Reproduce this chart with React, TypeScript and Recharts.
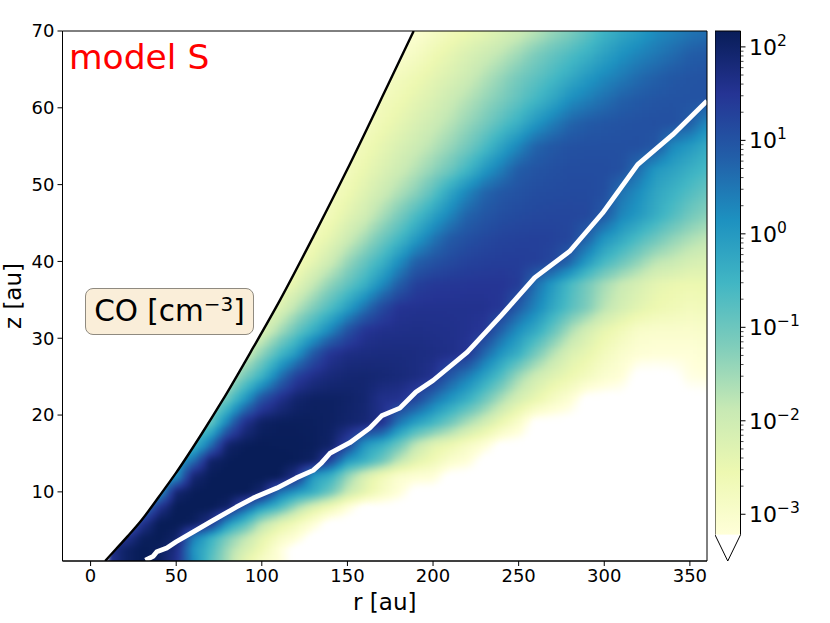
import React from 'react';
import {
  ComposedChart,
  Scatter,
  Area,
  Line,
  XAxis,
  YAxis,
  ReferenceArea,
} from 'recharts';

const FONT = '"DejaVu Sans", sans-serif';

// tick labels
const xTicks = [0, 50, 100, 150, 200, 250, 300, 350];
const yTicks = [10, 20, 30, 40, 50, 60, 70];
const cbDecades = [-3, -2, -1, 0, 1, 2];
const cbMinor = [0.301, 0.477, 0.602, 0.699, 0.778, 0.845, 0.903, 0.954];

// YlGnBu, low to high
const cmap = ['#ffffd9', '#edf8b1', '#c7e9b4', '#7fcdbb', '#41b6c4', '#1d91c0', '#225ea8', '#253494', '#081d58'];
const LOG_MIN = -3.22;
const LOG_MAX = 2.17;

// black curve (disc surface)
const surfaceR = [8.5, 15, 22, 29, 40, 50, 65, 77, 95, 110.7, 130, 149.5, 173.5, 188.7];
const surfaceZ = [1, 2.6, 4.3, 6.1, 9.4, 12.5, 17.6, 21.9, 28.8, 35, 43.2, 51.8, 62.9, 70];

// white line
const lineR = [32, 36.5, 38.7, 44.5, 50, 60, 70, 75.6, 85, 95, 108.8, 120, 130, 135, 139.7, 151.4, 163, 170, 180.6, 190, 200, 220, 240, 259.4, 279.7, 299, 319.5, 340, 360];
const lineZ = [1.1, 1.6, 2.2, 2.7, 3.5, 4.8, 6.1, 6.8, 8, 9.2, 10.5, 11.8, 12.8, 13.8, 15, 16.4, 18.3, 19.9, 20.9, 23, 24.5, 28.2, 33, 37.9, 41.3, 46.3, 52.6, 56.5, 60.9];

// log10 CO density, row by row from the top, one value every 10 au starting at rowStart
const rowZ = [70, 67, 64, 61, 58, 55, 52, 49, 46, 43, 40, 37, 34, 31, 28, 25, 22, 19, 16, 14, 12, 10, 8, 6, 4, 2.5, 1];
const rowStart = [170, 160, 160, 150, 140, 130, 130, 120, 110, 110, 100, 90, 80, 80, 70, 60, 50, 40, 30, 20, 20, 10, 10, 10, 10, 10, 10];
const logCO = [
  [-3.1, -3.1, -3.1, -2.9, -2.7, -2.55, -2.4, -2.2, -2, -1.75, -1.45, -1.2, -0.85, -0.5, -0.25, -0.05, 0.2, 0.35, 0.5, 0.6],
  [-3.05, -3.05, -3.05, -2.85, -2.62, -2.42, -2.2, -2, -1.78, -1.5, -1.17, -0.92, -0.68, -0.43, -0.15, 0.12, 0.31, 0.48, 0.65, 0.83, 0.9],
  [-3, -2.95, -2.75, -2.6, -2.4, -2.2, -1.98, -1.7, -1.4, -1.1, -0.85, -0.6, -0.3, 0, 0.25, 0.45, 0.65, 0.8, 0.92, 0.98, 1],
  [-3, -2.95, -2.75, -2.6, -2.4, -2.2, -1.95, -1.7, -1.42, -1.15, -0.85, -0.53, -0.2, 0.18, 0.4, 0.6, 0.8, 0.9, 0.97, 1, 1, 1],
  [-3, -3, -2.85, -2.62, -2.42, -2.2, -1.98, -1.72, -1.42, -1.12, -0.75, -0.4, 0.05, 0.4, 0.72, 0.88, 0.95, 1, 1.03, 1.05, 1.05, 0.85, 0.25],
  [-3, -3, -2.85, -2.65, -2.43, -2.2, -1.98, -1.72, -1.42, -1.08, -0.65, -0.15, 0.3, 0.75, 0.92, 1.02, 1.05, 1.05, 1.05, 1.05, 0.95, 0.25, 0, -0.3],
  [-3, -2.95, -2.75, -2.5, -2.25, -2, -1.7, -1.37, -1, -0.53, 0, 0.43, 0.85, 0.98, 1.05, 1.1, 1.1, 1.1, 1.05, 0.6, 0.05, -0.15, -0.38, -0.6],
  [-3, -2.95, -2.8, -2.6, -2.3, -2, -1.65, -1.3, -0.8, -0.2, 0.3, 0.72, 0.93, 1.02, 1.1, 1.12, 1.14, 1.14, 1.08, 0.55, 0.2, -0.2, -0.45, -0.7, -0.95],
  [-3, -3, -2.9, -2.68, -2.35, -2.05, -1.6, -1.15, -0.65, -0.15, 0.32, 0.75, 0.95, 1.08, 1.14, 1.18, 1.2, 1.2, 1.18, 0.9, 0.3, 0, -0.35, -0.7, -1.05, -1.3],
  [-3, -2.95, -2.7, -2.4, -2, -1.55, -1.05, -0.58, -0.03, 0.48, 0.88, 1.05, 1.17, 1.25, 1.28, 1.3, 1.28, 1.2, 0.75, 0.1, -0.25, -0.65, -1, -1.35, -1.6, -1.8],
  [-3, -2.95, -2.75, -2.42, -2, -1.45, -0.95, -0.47, 0.15, 0.76, 1, 1.15, 1.27, 1.32, 1.35, 1.35, 1.32, 1.2, 0.75, 0, -0.55, -0.95, -1.35, -1.75, -1.9, -2.1, -2.2],
  [-2.7, -2.7, -2.7, -2.4, -1.87, -1.35, -0.9, -0.42, 0.2, 0.82, 1.3, 1.42, 1.45, 1.47, 1.48, 1.48, 1.38, 0.6, 0, -0.6, -1.1, -1.55, -1.9, -2.15, -2.4, -2.5, -2.55, -2.5],
  [-2.5, -2.5, -2.5, -2.3, -1.75, -1.2, -0.68, -0.1, 0.55, 1.15, 1.52, 1.55, 1.56, 1.56, 1.56, 1.55, 1.45, 0.85, 0.3, -0.25, -0.75, -1.2, -1.75, -2.1, -2.35, -2.55, -2.65, -2.75, -2.7],
  [-2.4, -2.4, -2.25, -1.6, -0.95, -0.35, 0.3, 1, 1.5, 1.6, 1.62, 1.64, 1.62, 1.6, 1.55, 1.45, 0.75, 0.15, -0.3, -0.9, -1.6, -2.1, -2.45, -2.7, -2.95, -3, -3, -3, -2.95],
  [-2.05, -2.05, -2.05, -1.35, -0.6, 0.02, 0.9, 1.5, 1.68, 1.72, 1.74, 1.74, 1.72, 1.68, 1.62, 1.5, 0.7, 0.05, -0.4, -1.1, -1.7, -2.2, -2.45, -2.75, -3, -3.15, -3.2, -3.2, -3.2, -3.1],
  [-1.9, -1.9, -1.9, -1.1, -0.43, 0.5, 1.3, 1.65, 1.8, 1.88, 1.9, 1.86, 1.8, 1.72, 1.55, 0.9, 0.4, -0.15, -0.75, -1.5, -2, -2.3, -2.55, -2.8, -3.05, -3.2, -3.6, -3.6, -3.55, -3.3, -3.25],
  [-1.5, -1.5, -1.5, -0.95, 0.05, 1.05, 1.6, 1.95, 2.05, 2.05, 2, 1.9, 1.6, 1.55, 1.2, 0.55, 0.05, -0.4, -1, -1.65, -2.15, -2.5, -2.85, -3.15],
  [-1, -1, -1, -0.95, 0.4, 1.6, 2.05, 2.12, 2.12, 2.1, 2.05, 1.95, 1.85, 1.6, 0.5, -0.1, -0.53, -1.05, -1.6, -2.05, -2.55, -3],
  [-0.6, -0.6, -0.6, -0.5, 0.6, 2, 2.15, 2.17, 2.15, 2.15, 2.12, 2, 1.2, 0, -0.45, -1.05, -1.85, -2.35, -2.6, -2.9, -3.2],
  [-0.2, -0.2, -0.2, -0.2, 0.6, 2, 2.15, 2.2, 2.2, 2.2, 2.15, 2.05, 1.2, 0, -0.42, -1, -1.8, -2.35, -2.65, -3, -3.2],
  [-0.1, -0.1, -0.1, 0.1, 1.9, 2.15, 2.2, 2.2, 2.2, 2.15, 1.6, -0.05, -0.45, -1.4, -2.2, -2.7, -3.05, -3.15, -3.2],
  [-0.3, -0.3, -0.3, -0.1, 1.9, 2.15, 2.2, 2.2, 2.2, 1.9, 0.6, 0.05, -0.35, -1, -1.87, -2.4, -2.85, -3.2],
  [0, 0, 0.1, 1.5, 2.2, 2.2, 2.2, 2, 0.9, 0, -0.6, -1.5, -2.2, -2.65, -3.2],
  [0.3, 0.3, 1.5, 2.2, 2.2, 2.1, 1.6, 0.1, -0.7, -1.7, -2.3, -2.7, -3.15],
  [1.5, 1.5, 2.1, 2.2, 2, 0.4, -0.4, -1.2, -1.8, -2.4, -2.9, -3.2],
  [1.5, 2, 2.2, 2.1, 1.7, 0.1, -0.6, -1.5, -2.1, -2.6, -3.2],
  [1.5, 2, 2.2, 2.1, 1.6, 0.2, -0.75, -1.6, -2.4, -2.9, -3.2],
];

// plot box in page pixels
const LEFT = 62.5;
const RIGHT = 707;
const TOP = 31;
const BOTTOM = 561;
const X_MIN = -16.4;
const X_MAX = 360;
const Y_MIN = 1;
const Y_MAX = 70;
const PX_R = (RIGHT - LEFT) / (X_MAX - X_MIN);
const PX_Z = (BOTTOM - TOP) / (Y_MAX - Y_MIN);
const COLS = 10; // au between columns
const LOG_BLANK = -3.6;

const hexToRgb = (h: string) => [1, 3, 5].map((i) => parseInt(h.slice(i, i + 2), 16));

// below the colorbar it fades out to white, like the "under" colour
const colorOf = (v: number) => {
  if (v <= -3.5) return null;
  if (v < LOG_MIN) {
    const f = (v - -3.5) / (LOG_MIN - -3.5);
    const pale = hexToRgb(cmap[0]);
    const c = pale.map((x) => Math.round(255 + (x - 255) * f));
    return `rgb(${c[0]},${c[1]},${c[2]})`;
  }
  const t = Math.min(1, (v - LOG_MIN) / (LOG_MAX - LOG_MIN)) * (cmap.length - 1);
  const i = Math.min(Math.floor(t), cmap.length - 2);
  const a = hexToRgb(cmap[i]);
  const b = hexToRgb(cmap[i + 1]);
  const c = a.map((x, k) => Math.round(x + (b[k] - x) * (t - i)));
  return `rgb(${c[0]},${c[1]},${c[2]})`;
};

// value at a grid node; left of a row's start it keeps the first value, right of its end it is blank
const nodeValue = (j: number, r: number) => {
  const row = logCO[j];
  const k = Math.round((r - rowStart[j]) / COLS);
  if (k < 0) return row[0];
  if (k < row.length) return row[k];
  const reachesEdge = rowStart[j] + (row.length - 1) * COLS === 360;
  return reachesEdge ? row[row.length - 1] : LOG_BLANK;
};

// one quad per pair of neighbouring rows and columns
const heatCells = rowZ.slice(0, -1).flatMap((z, j) =>
  Array.from({ length: 37 }, (_, i) => i * COLS)
    .filter((r) => r + COLS > rowStart[j] || r + COLS > rowStart[j + 1])
    .map((r) => ({ r, z, row: j }))
);

const surfaceData = surfaceR.map((r, i) => ({ r, z: surfaceZ[i] }));
const lineData = lineR.map((r, i) => ({ r, z: lineZ[i] }));
const maskData = [
  { r: X_MIN, band: [Y_MIN, Y_MAX] },
  { r: surfaceR[0] - 0.1, band: [Y_MIN, Y_MAX] },
  ...surfaceData.map((p) => ({ r: p.r, band: [p.z, Y_MAX] })),
];

// gouraud-like quad, shaded from the four node values
const HeatCell = (props: any) => {
  const { cx, cy, payload } = props;
  const j = payload.row;
  const r = payload.r;
  const a = nodeValue(j, r);
  const b = nodeValue(j, r + COLS);
  const c = nodeValue(j + 1, r);
  const d = nodeValue(j + 1, r + COLS);
  const w = COLS * PX_R;
  const h = (rowZ[j] - rowZ[j + 1]) * PX_Z;
  const nx = 5;
  const ny = Math.max(2, Math.ceil(h / 3.5));
  const rects = [];
  for (let iy = 0; iy < ny; iy++) {
    for (let ix = 0; ix < nx; ix++) {
      const fx = (ix + 0.5) / nx;
      const fy = (iy + 0.5) / ny;
      const fill = colorOf(a * (1 - fx) * (1 - fy) + b * fx * (1 - fy) + c * (1 - fx) * fy + d * fx * fy);
      if (!fill) continue;
      const top = j === 0 && iy === 0 ? 12 : 0;
      const bottom = j === rowZ.length - 2 && iy === ny - 1 ? 12 : 0;
      rects.push(
        <rect
          key={`${ix}-${iy}`}
          x={cx + (ix * w) / nx}
          y={cy + (iy * h) / ny - top}
          width={w / nx + 0.5}
          height={h / ny + 0.5 + top + bottom}
          fill={fill}
        />
      );
    }
  }
  return <g shapeRendering="crispEdges">{rects}</g>;
};

const ColorbarTick = (props: any) => {
  const { x, y, payload } = props;
  const major = Number.isInteger(payload.value);
  return (
    <g>
      <line x1={x} x2={x + (major ? 5 : 3)} y1={y} y2={y} stroke="#000" strokeWidth={major ? 1 : 0.7} />
      {major && (
        <text x={x + 8.5} y={y + 8} fontSize={22} fontFamily={FONT} fill="#000">
          10
          <tspan dy={-9} fontSize={15.5}>
            {payload.value < 0 ? `\u2212${-payload.value}` : payload.value}
          </tspan>
        </text>
      )}
    </g>
  );
};

const cbTicks = cbDecades.flatMap((d) => [d, ...cbMinor.map((m) => d + m)]).filter((t) => t >= LOG_MIN && t <= LOG_MAX);
const cbData = [{ x: 0 }, { x: 1 }];

// outline left open at the bottom, the triangle carries on from there
const ColorbarBody = (props: any) => {
  const { x, y, width, height } = props;
  return (
    <g>
      <rect x={x} y={y} width={width} height={height} fill="url(#cbGrad)" />
      <path d={`M${x},${y + height}L${x},${y}L${x + width},${y}L${x + width},${y + height}`} fill="none" stroke="#000" strokeWidth={1} />
    </g>
  );
};

const Triangle = (props: any) => {
  const { x, y, width, height } = props;
  return <path d={`M${x},${y}L${x + width / 2},${y + height}L${x + width},${y}`} fill="#fff" stroke="#000" strokeWidth={1} />;
};

const tickStyle = { fontSize: 18, fontFamily: FONT, fill: '#000' };

export default function App() {
  return (
    <div style={{ position: 'absolute', left: 0, top: 0, width: 830, height: 623, fontFamily: FONT, background: '#fff' }}>
      <style>{`.heat-layer { filter: url(#heatBlur); clip-path: url(#plotClip); }`}</style>
      <svg width={0} height={0} style={{ position: 'absolute' }}>
        <defs>
          <filter id="heatBlur" filterUnits="userSpaceOnUse" x={0} y={0} width={830} height={623} colorInterpolationFilters="sRGB">
            <feGaussianBlur stdDeviation="2" />
          </filter>
          <clipPath id="plotClip">
            <rect x={LEFT} y={TOP} width={RIGHT - LEFT} height={BOTTOM - TOP} />
          </clipPath>
          <linearGradient id="cbGrad" x1="0" y1="1" x2="0" y2="0">
            {cmap.map((c, i) => (
              <stop key={c} offset={i / (cmap.length - 1)} stopColor={c} />
            ))}
          </linearGradient>
        </defs>
      </svg>

      <div style={{ position: 'absolute', left: 0, top: 0 }}>
        <ComposedChart width={830} height={623} margin={{ top: TOP, right: 830 - RIGHT, bottom: 0, left: 0 }}>
          <XAxis
            type="number"
            dataKey="r"
            domain={[X_MIN, X_MAX]}
            ticks={xTicks}
            allowDataOverflow
            height={623 - BOTTOM}
            tickSize={5}
            tickMargin={3}
            tick={tickStyle}
            stroke="#000"
            label={{ value: 'r [au]', position: 'insideBottom', offset: 13, style: { fontSize: 23, fontFamily: FONT, fill: '#000' } }}
          />
          <YAxis
            type="number"
            dataKey="z"
            domain={[Y_MIN, Y_MAX]}
            ticks={yTicks}
            allowDataOverflow
            width={LEFT}
            tickSize={5}
            tickMargin={3}
            tick={tickStyle}
            stroke="#000"
            label={{ value: 'z [au]', angle: -90, position: 'insideLeft', offset: 13, style: { fontSize: 23, fontFamily: FONT, fill: '#000', textAnchor: 'middle' } }}
          />
          <Scatter data={heatCells} dataKey="z" shape={HeatCell} className="heat-layer" zIndex={10} isAnimationActive={false} />
          <Area data={maskData} dataKey="band" type="monotone" fill="#fff" fillOpacity={1} stroke="none" dot={false} activeDot={false} zIndex={20} isAnimationActive={false} />
          <Line data={surfaceData} dataKey="z" type="monotone" stroke="#000" strokeWidth={2.4} dot={false} activeDot={false} zIndex={30} isAnimationActive={false} />
          <Line data={lineData} dataKey="z" type="linear" stroke="#fff" strokeWidth={4.8} strokeLinejoin="round" dot={false} activeDot={false} zIndex={40} isAnimationActive={false} />
          <ReferenceArea x1={X_MIN} x2={X_MAX} y1={Y_MIN} y2={Y_MAX} fill="none" stroke="#000" strokeWidth={1} ifOverflow="visible" zIndex={50} />
        </ComposedChart>
      </div>

      <div style={{ position: 'absolute', left: 715, top: 0 }}>
        <ComposedChart width={115} height={623} data={cbData} margin={{ top: TOP, right: 0, bottom: 623 - BOTTOM, left: 0 }}>
          <XAxis type="number" dataKey="x" domain={[0, 1]} hide />
          <YAxis
            type="number"
            orientation="right"
            domain={[-3.5, LOG_MAX]}
            ticks={cbTicks}
            interval={0}
            width={89.5}
            axisLine={false}
            tickLine={false}
            tickSize={0}
            tickMargin={0}
            tick={ColorbarTick}
            allowDataOverflow
          />
          <Line dataKey="x" stroke="none" dot={false} activeDot={false} isAnimationActive={false} />
          <ReferenceArea x1={0} x2={1} y1={LOG_MIN} y2={LOG_MAX} shape={ColorbarBody} ifOverflow="visible" />
          <ReferenceArea x1={0} x2={1} y1={-3.5} y2={LOG_MIN} shape={Triangle} ifOverflow="visible" />
        </ComposedChart>
      </div>

      <div style={{ position: 'absolute', left: 69, top: 36, fontSize: 34.5, color: '#ff0000', lineHeight: '42px', whiteSpace: 'nowrap' }}>
        model S
      </div>
      <div
        style={{
          position: 'absolute',
          left: 85,
          top: 288,
          width: 169,
          height: 47,
          boxSizing: 'border-box',
          background: '#faeed9',
          border: '1px solid #8f8a80',
          borderRadius: 8,
          fontSize: 29.5,
          color: '#000',
          textAlign: 'center',
          lineHeight: '45px',
          whiteSpace: 'nowrap',
        }}
      >
        CO [cm<sup style={{ fontSize: 20, lineHeight: 0, verticalAlign: 10 }}>{'\u22123'}</sup>]
      </div>
    </div>
  );
}
